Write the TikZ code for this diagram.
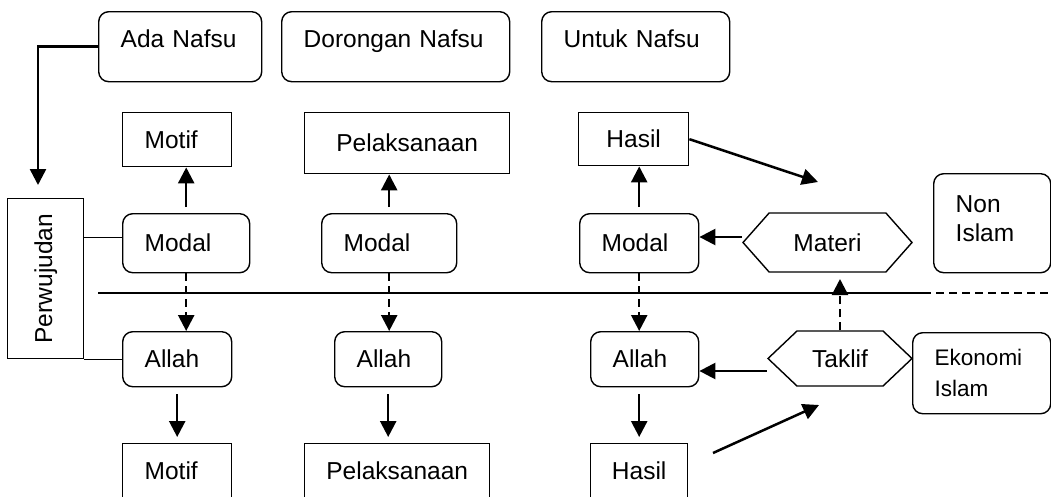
\documentclass[tikz,border=0pt]{standalone}
\usepackage{fontspec}
\setmainfont{Liberation Sans}
\usetikzlibrary{arrows.meta,shapes.symbols}

\begin{document}
\begin{tikzpicture}[x=1pt, y=-1pt, font=\fontsize{24.5}{29.5}\selectfont,
    kotak/.style={draw, line width=1.4pt, inner sep=0pt, anchor=north west,
      text height=17.5pt, text depth=0pt},
    bulat/.style={kotak, rounded corners=10pt},
    kiri/.style={align=left, inner xsep=22pt},
    hexa/.style={draw, line width=1.4pt, signal, signal to=west and east,
      inner sep=0pt, text height=17.5pt, text depth=0pt},
    panah/.style={line width=2.5pt, -{Triangle[length=16pt, width=16pt]}},
    putus/.style={panah, dash pattern=on 8pt off 5pt}]

    \clip (0,0) rectangle (1051,496);

    % baris atas
    \node[bulat, kiri, text width=119pt, minimum height=70pt, text depth=16pt] (ada) at (98,11) {Ada Nafsu};
    \node[bulat, kiri, text width=184pt, minimum height=70pt, text depth=16pt] (dorongan) at (281,11) {Dorongan Nafsu};
    \node[bulat, kiri, text width=144pt, minimum height=70pt, text depth=16pt] (untuk) at (541,11) {Untuk Nafsu};

    % di atas garis
    \node[kotak, kiri, text width=65pt, minimum height=54pt] (motifA) at (122,112) {Motif};
    \node[kotak, minimum width=205pt, minimum height=61pt] (laksanaA) at (304,112) {Pelaksanaan};
    \node[kotak, minimum width=110pt, minimum height=53pt] (hasilA) at (578,112) {Hasil};

    \node[draw, line width=1.4pt, inner sep=0pt, anchor=north west, minimum width=76pt,
      minimum height=160pt] (perw) at (7,198) {\rotatebox{90}{Perwujudan}};
    \node[bulat, kiri, text width=83pt, minimum height=59pt] (modalA) at (122,213) {Modal};
    \node[bulat, kiri, text width=91pt, minimum height=59pt] (modalB) at (321,213) {Modal};
    \node[bulat, kiri, text width=75pt, minimum height=59pt] (modalC) at (579,213) {Modal};
    \node[hexa, signal pointer angle=97, minimum width=169pt, minimum height=59pt] (materi) at (827.5,242.5) {Materi};
    \node[bulat, kiri, text width=73pt, minimum height=99pt, text depth=39.5pt] (nonislam) at (933,173) {Non\\Islam};

    % di bawah garis
    \node[bulat, kiri, text width=65pt, minimum height=55pt] (allahA) at (122,331) {Allah};
    \node[bulat, kiri, text width=63pt, minimum height=55pt] (allahB) at (334,331) {Allah};
    \node[bulat, kiri, text width=64pt, minimum height=55pt] (allahC) at (590,331) {Allah};
    \node[hexa, signal pointer angle=87, minimum width=144pt, minimum height=55pt] (taklif) at (840,358.5) {Taklif};
    \node[bulat, kiri, text width=94pt, minimum height=81pt, text height=16pt, text depth=31pt,
      font=\fontsize{22.5}{31}\selectfont] (ekonomi) at (912,332) {Ekonomi\\Islam};

    \node[kotak, kiri, text width=65pt, minimum height=55pt] (motifB) at (122,443) {Motif};
    \node[kotak, minimum width=185pt, minimum height=55pt] (laksanaB) at (304,443) {Pelaksanaan};
    \node[kotak, minimum width=97pt, minimum height=55pt] (hasilB) at (590,443) {Hasil};

    \coordinate (ujungA) at (38,185);
    \coordinate (ujungB) at (818,182);
    \coordinate (ujungC) at (840,279);
    \coordinate (pangkalD) at (713,453);
    \coordinate (ujungD) at (819,405);
    \coordinate (garisA) at (98,293);
    \coordinate (garisB) at (923,293);
    \coordinate (garisC) at (1051,293);

    % garis pemisah
    \draw[line width=1.4pt] (garisA) -- (garisB);
    \draw[line width=2.2pt, dash pattern=on 8pt off 5pt] (garisB) -- (garisC);

    \draw[line width=1.4pt] ([yshift=5.5]modalA.west -| perw.east) -- ([yshift=5.5]modalA.west);
    \draw[line width=1.4pt] (allahA.west -| perw.east) -- (allahA.west);

    \draw[panah] (ada.west) -| (ujungA);
    \draw[panah, shorten <=6pt] (modalA.north) -- (modalA.north |- motifA.south);
    \draw[panah, shorten <=6pt] (modalB.north) -- (modalB.north |- laksanaA.south);
    \draw[panah, shorten <=6pt] (modalC.north) -- (modalC.north |- hasilA.south);
    \draw[panah] (hasilA.east) -- (ujungB);
    \draw[panah] ([yshift=5.5]materi.west) -- ([yshift=5.5]materi.west -| modalC.east);

    \draw[putus] (modalA.south) -- (modalA.south |- allahA.north);
    \draw[putus] (modalB.south) -- (modalB.south |- allahB.north);
    \draw[putus] (modalC.south) -- (modalC.south |- allahC.north);
    \draw[putus] (taklif.north) -- (ujungC);

    \draw[panah, shorten <=7pt, shorten >=6pt] (allahA.south) -- (allahA.south |- motifB.north);
    \draw[panah, shorten <=7pt, shorten >=6pt] (allahB.south) -- (allahB.south |- laksanaB.north);
    \draw[panah, shorten <=7pt, shorten >=6pt] (hasilB.north |- allahC.south) -- (hasilB.north);
    \draw[panah] ([yshift=-12.5]taklif.west) -- ([yshift=-12.5]taklif.west -| allahC.east);
    \draw[panah] (pangkalD) -- (ujungD);
\end{tikzpicture}
\end{document}
